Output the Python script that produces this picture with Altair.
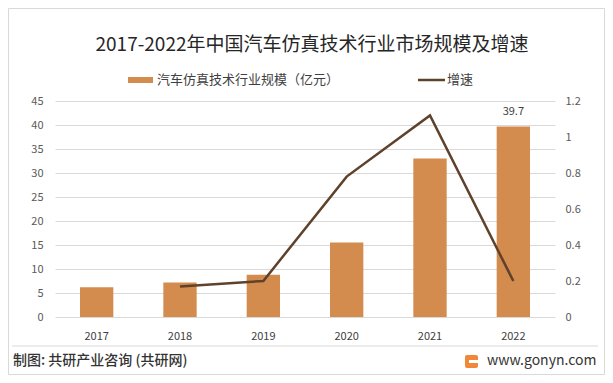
import altair as alt
import pandas as pd

years = ["2017", "2018", "2019", "2020", "2021", "2022"]
scale_values = [6.2, 7.2, 8.8, 15.5, 33.0, 39.7]
growth_years = ["2018", "2019", "2020", "2021", "2022"]
growth_values = [0.17, 0.2, 0.78, 1.12, 0.2]
label_years = ["2022"]
label_values = [39.7]
left_ticks = [0, 5, 10, 15, 20, 25, 30, 35, 40, 45]
right_ticks = [0, 0.2, 0.4, 0.6, 0.8, 1.0, 1.2]

title_text = "2017-2022年中国汽车仿真技术行业市场规模及增速"
legend_bar = "汽车仿真技术行业规模（亿元）"
legend_line = "增速"
footer_left = "制图: 共研产业咨询 (共研网)"
footer_right = "www.gonyn.com"

FONT = "Noto Sans CJK SC"
BAR_COLOR = "#D38B4E"
LINE_COLOR = "#5E422B"

bar_df = pd.DataFrame({"year": years, "value": scale_values})
line_df = pd.DataFrame({"year": growth_years, "growth": growth_values})
lab_df = pd.DataFrame({"year": label_years, "value": label_values})

x_enc = alt.X(
    "year:N",
    sort=years,
    scale=alt.Scale(domain=years, paddingInner=0.6, paddingOuter=0.3),
    axis=alt.Axis(title=None, labelAngle=0, domain=False, ticks=False,
                  labelPadding=13, labelFontSize=11, labelColor="#404040",
                  labelFont=FONT),
)

bars = alt.Chart(bar_df).mark_bar(color=BAR_COLOR).encode(
    x=x_enc,
    y=alt.Y("value:Q", scale=alt.Scale(domain=[0, 45], nice=False),
            axis=alt.Axis(title=None, values=left_ticks, grid=True,
                          gridColor="#D9D9D9", domain=False, ticks=False,
                          labelOverlap=False, labelPadding=12, labelFontSize=11,
                          labelColor="#595959", labelFont=FONT, orient="left")),
)

line = alt.Chart(line_df).mark_line(color=LINE_COLOR, strokeWidth=2.5).encode(
    x=alt.X("year:N", sort=years),
    y=alt.Y("growth:Q", scale=alt.Scale(domain=[0, 1.2], nice=False),
            axis=alt.Axis(title=None, values=right_ticks,
                          grid=False, domain=False, ticks=False, labelPadding=10,
                          labelOverlap=False, labelFontSize=11, labelColor="#595959",
                          labelFont=FONT, orient="right",
                          labelExpr="format(datum.value, '~g')")),
)

labels = alt.Chart(lab_df).mark_text(
    dy=-14, fontSize=11, color="#404040", font=FONT
).encode(
    x=alt.X("year:N", sort=years),
    y=alt.Y("value:Q", scale=alt.Scale(domain=[0, 45], nice=False), axis=None),
    text=alt.Text("value:Q", format=".1f"),
)

one = pd.DataFrame({"k": [0]})


def txt(s, x, y, size=13, align="left", color="#404040", weight="normal"):
    return alt.Chart(pd.DataFrame({"t": [s]})).mark_text(
        align=align, baseline="middle", fontSize=size, font=FONT,
        color=color, fontWeight=weight
    ).encode(text="t:N", x=alt.value(x), y=alt.value(y))


border = alt.Chart(one).mark_rect(filled=False, stroke="#D9D9D9", strokeWidth=1).encode(
    x=alt.value(-46.5), x2=alt.value(549.5), y=alt.value(-92.5), y2=alt.value(273.5))

title = txt(title_text, 257, -56, size=19, align="center", color="#262626")

leg_bar = alt.Chart(one).mark_rect(color=BAR_COLOR).encode(
    x=alt.value(73), x2=alt.value(98), y=alt.value(-24), y2=alt.value(-18))
leg_bar_t = txt(legend_bar, 102, -21, size=13)
leg_line = alt.Chart(one).mark_rule(color=LINE_COLOR, strokeWidth=2.5).encode(
    x=alt.value(363), x2=alt.value(390), y=alt.value(-21))
leg_line_t = txt(legend_line, 392, -21, size=13)

sep = alt.Chart(one).mark_rule(color="#D9D9D9", strokeWidth=1).encode(
    x=alt.value(-43), x2=alt.value(543), y=alt.value(245))
foot_l = txt(footer_left, -42, 260, size=14, color="#333333", weight=500)
logo = alt.Chart(one).mark_rect(color="#F0883A", cornerRadius=2).encode(
    x=alt.value(410), x2=alt.value(423), y=alt.value(254), y2=alt.value(267))
logo_in = alt.Chart(one).mark_rect(color="white").encode(
    x=alt.value(414), x2=alt.value(423), y=alt.value(259), y2=alt.value(262))
foot_r = txt(footer_right, 432, 260, size=14, color="#333333")

chart = alt.layer(
    border, bars, line, labels, title, leg_bar, leg_bar_t, leg_line, leg_line_t,
    sep, foot_l, logo, logo_in, foot_r
).resolve_scale(y="independent").properties(
    width=500, height=216,
    autosize=alt.AutoSizeParams(type="none"),
    padding={"left": 47, "top": 93, "right": 50, "bottom": 58},
    background="white",
).configure_view(stroke=None)

chart.save("out.html", embed_options={"renderer": "svg", "actions": False})
